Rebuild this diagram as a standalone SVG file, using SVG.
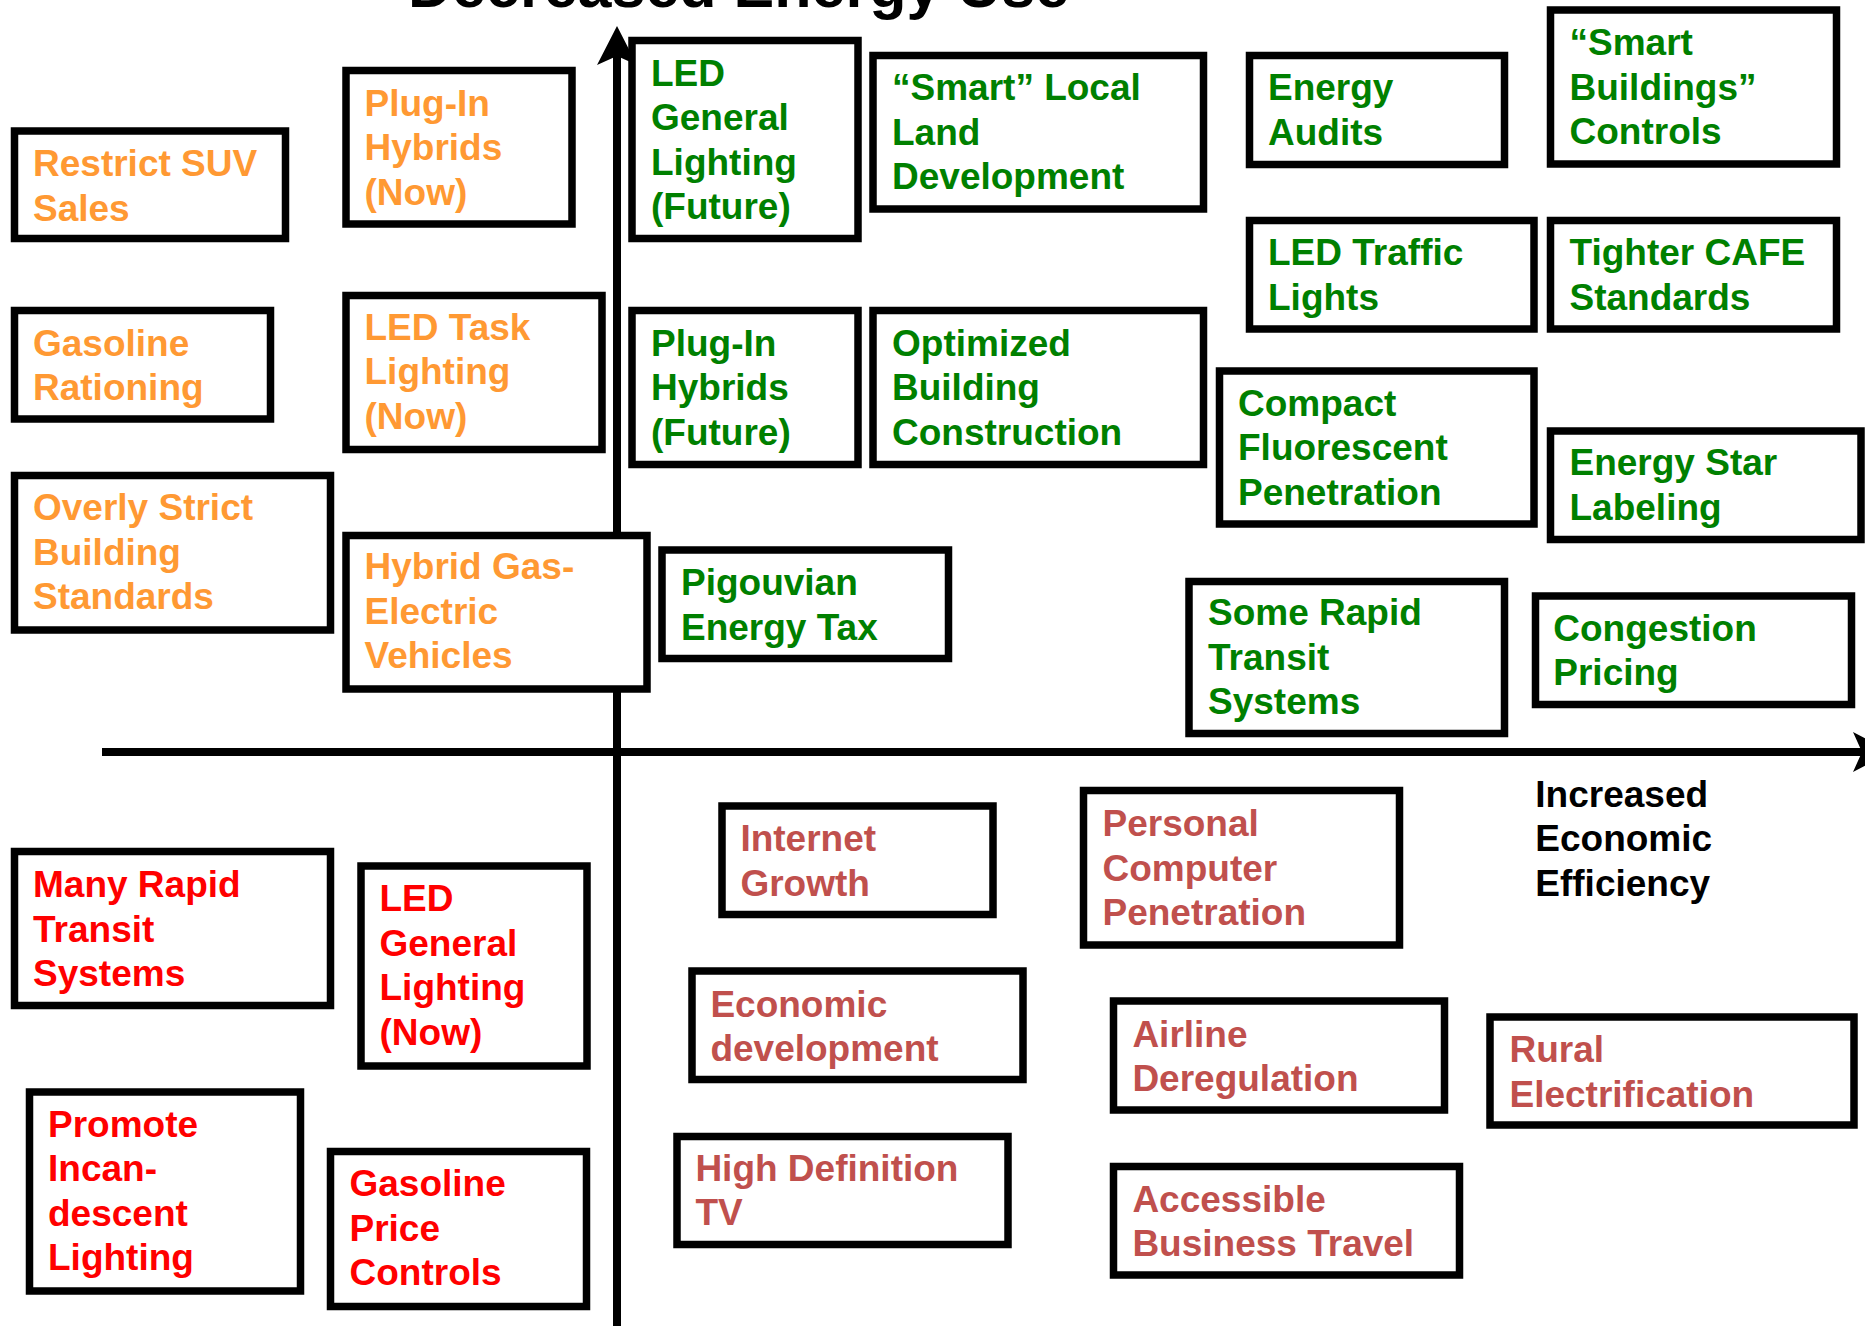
<svg xmlns="http://www.w3.org/2000/svg" width="1865" height="1326" viewBox="0 0 1865 1326">
<style>
.box{fill:#fff;stroke:#000;stroke-width:7.5}
.t{font-family:"Liberation Sans",Arial,sans-serif;font-weight:bold;font-size:37px}
.o{fill:#FF9933}.g{fill:#008000}.r{fill:#FF0000}.d{fill:#C0504D}.k{fill:#000}
.ax{stroke:#000;stroke-width:8;fill:none}
</style>
<defs>
<marker id="arr" viewBox="0 0 40 40" markerWidth="40" markerHeight="40" refX="9" refY="20" orient="auto" markerUnits="userSpaceOnUse">
<path d="M39,20 L0,0 L9,20 L0,40 Z" fill="#000"/>
</marker>
</defs>
<rect width="1865" height="1326" fill="#fff"/>
<text class="k" x="408" y="7" font-family="Liberation Sans, Arial, sans-serif" font-weight="bold" font-size="61">Decreased Energy Use</text>
<g id="connectors">
<line class="ax" x1="617" y1="1326" x2="617" y2="56" marker-end="url(#arr)"/>
<line class="ax" x1="102" y1="752" x2="1862" y2="752" marker-end="url(#arr)"/>
</g>
<g id="n1"><rect class="box" x="14.5" y="131" width="271" height="107.5"/><text class="t o"><tspan x="33" y="176">Restrict SUV</tspan><tspan x="33" y="220.5">Sales</tspan></text></g>
<g id="n2"><rect class="box" x="346" y="70.5" width="226" height="153.5"/><text class="t o"><tspan x="364.5" y="115.7">Plug-In</tspan><tspan x="364.5" y="160.2">Hybrids</tspan><tspan x="364.5" y="204.7">(Now)</tspan></text></g>
<g id="n3"><rect class="box" x="14.5" y="310.5" width="256" height="108.5"/><text class="t o"><tspan x="33" y="355.8">Gasoline</tspan><tspan x="33" y="400.3">Rationing</tspan></text></g>
<g id="n4"><rect class="box" x="346" y="295.5" width="256" height="154"/><text class="t o"><tspan x="364.5" y="339.8">LED Task</tspan><tspan x="364.5" y="384.3">Lighting</tspan><tspan x="364.5" y="428.8">(Now)</tspan></text></g>
<g id="n5"><rect class="box" x="14.5" y="475.5" width="316" height="154.5"/><text class="t o"><tspan x="33" y="520.2">Overly Strict</tspan><tspan x="33" y="564.7">Building</tspan><tspan x="33" y="609.2">Standards</tspan></text></g>
<g id="n6"><rect class="box" x="346" y="535.5" width="301" height="153.5"/><text class="t o"><tspan x="364.5" y="579.4">Hybrid Gas-</tspan><tspan x="364.5" y="623.9">Electric</tspan><tspan x="364.5" y="668.4">Vehicles</tspan></text></g>
<g id="n7"><rect class="box" x="632" y="40.5" width="226" height="198"/><text class="t g"><tspan x="651" y="85.9">LED</tspan><tspan x="651" y="130.4">General</tspan><tspan x="651" y="174.9">Lighting</tspan><tspan x="651" y="219.4">(Future)</tspan></text></g>
<g id="n8"><rect class="box" x="632" y="310.5" width="226" height="154"/><text class="t g"><tspan x="651" y="355.8">Plug-In</tspan><tspan x="651" y="400.3">Hybrids</tspan><tspan x="651" y="444.8">(Future)</tspan></text></g>
<g id="n9"><rect class="box" x="662" y="550" width="286.5" height="108.5"/><text class="t g"><tspan x="681" y="595">Pigouvian</tspan><tspan x="681" y="639.5">Energy Tax</tspan></text></g>
<g id="n10"><rect class="box" x="873" y="55.5" width="330.5" height="153.5"/><text class="t g"><tspan x="892" y="100">“Smart” Local</tspan><tspan x="892" y="144.5">Land</tspan><tspan x="892" y="189">Development</tspan></text></g>
<g id="n11"><rect class="box" x="1249.5" y="55.5" width="255" height="109"/><text class="t g"><tspan x="1268" y="100">Energy</tspan><tspan x="1268" y="144.5">Audits</tspan></text></g>
<g id="n12"><rect class="box" x="1550.5" y="10" width="286" height="154"/><text class="t g"><tspan x="1569.5" y="55.1">“Smart</tspan><tspan x="1569.5" y="99.6">Buildings”</tspan><tspan x="1569.5" y="144.1">Controls</tspan></text></g>
<g id="n13"><rect class="box" x="1249.5" y="220.5" width="284.5" height="108.5"/><text class="t g"><tspan x="1268" y="265.4">LED Traffic</tspan><tspan x="1268" y="309.9">Lights</tspan></text></g>
<g id="n14"><rect class="box" x="1550.5" y="220.5" width="286" height="108.5"/><text class="t g"><tspan x="1569.5" y="265.4">Tighter CAFE</tspan><tspan x="1569.5" y="309.9">Standards</tspan></text></g>
<g id="n15"><rect class="box" x="873" y="310.5" width="330.5" height="154"/><text class="t g"><tspan x="892" y="355.8">Optimized</tspan><tspan x="892" y="400.3">Building</tspan><tspan x="892" y="444.8">Construction</tspan></text></g>
<g id="n16"><rect class="box" x="1219.5" y="371" width="314.5" height="153"/><text class="t g"><tspan x="1238" y="415.5">Compact</tspan><tspan x="1238" y="460">Fluorescent</tspan><tspan x="1238" y="504.5">Penetration</tspan></text></g>
<g id="n17"><rect class="box" x="1550.5" y="431" width="310.5" height="108.5"/><text class="t g"><tspan x="1569.5" y="475.2">Energy Star</tspan><tspan x="1569.5" y="519.7">Labeling</tspan></text></g>
<g id="n18"><rect class="box" x="1189" y="581.5" width="315.5" height="152"/><text class="t g"><tspan x="1208" y="625.3">Some Rapid</tspan><tspan x="1208" y="669.8">Transit</tspan><tspan x="1208" y="714.3">Systems</tspan></text></g>
<g id="n19"><rect class="box" x="1535.5" y="596" width="316" height="108.5"/><text class="t g"><tspan x="1553.3" y="640.5">Congestion</tspan><tspan x="1553.3" y="685">Pricing</tspan></text></g>
<g id="n20"><rect class="box" x="14.5" y="851.5" width="316" height="154"/><text class="t r"><tspan x="33" y="897">Many Rapid</tspan><tspan x="33" y="941.5">Transit</tspan><tspan x="33" y="986">Systems</tspan></text></g>
<g id="n21"><rect class="box" x="361" y="866" width="226" height="200"/><text class="t r"><tspan x="379.5" y="911.3">LED</tspan><tspan x="379.5" y="955.8">General</tspan><tspan x="379.5" y="1000.3">Lighting</tspan><tspan x="379.5" y="1044.8">(Now)</tspan></text></g>
<g id="n22"><rect class="box" x="29.5" y="1092" width="271" height="199"/><text class="t r"><tspan x="48" y="1136.7">Promote</tspan><tspan x="48" y="1181.2">Incan-</tspan><tspan x="48" y="1225.7">descent</tspan><tspan x="48" y="1270.2">Lighting</tspan></text></g>
<g id="n23"><rect class="box" x="330.5" y="1151.5" width="256" height="155"/><text class="t r"><tspan x="349.5" y="1196.2">Gasoline</tspan><tspan x="349.5" y="1240.7">Price</tspan><tspan x="349.5" y="1285.2">Controls</tspan></text></g>
<g id="n24"><rect class="box" x="722" y="806" width="271" height="108.5"/><text class="t d"><tspan x="740.4" y="851.4">Internet</tspan><tspan x="740.4" y="895.9">Growth</tspan></text></g>
<g id="n25"><rect class="box" x="692" y="971" width="331" height="108.5"/><text class="t d"><tspan x="710.4" y="1016.9">Economic</tspan><tspan x="710.4" y="1061">development</tspan></text></g>
<g id="n26"><rect class="box" x="677" y="1136.5" width="331" height="108"/><text class="t d"><tspan x="695.4" y="1180.8">High Definition</tspan><tspan x="695.4" y="1225.3">TV</tspan></text></g>
<g id="n27"><rect class="box" x="1083.5" y="790.5" width="316" height="154.5"/><text class="t d"><tspan x="1102.5" y="836">Personal</tspan><tspan x="1102.5" y="880.5">Computer</tspan><tspan x="1102.5" y="925">Penetration</tspan></text></g>
<g id="n28"><rect class="box" x="1113.5" y="1001" width="331" height="109"/><text class="t d"><tspan x="1132.4" y="1046.6">Airline</tspan><tspan x="1132.4" y="1091.1">Deregulation</tspan></text></g>
<g id="n29"><rect class="box" x="1113.5" y="1166.5" width="346" height="108.5"/><text class="t d"><tspan x="1132.4" y="1211.7">Accessible</tspan><tspan x="1132.4" y="1256.2">Business Travel</tspan></text></g>
<g id="n30"><rect class="box" x="1490" y="1017" width="364" height="108"/><text class="t d"><tspan x="1509.5" y="1062.1">Rural</tspan><tspan x="1509.5" y="1106.6">Electrification</tspan></text></g>
<g id="axis-label"><text class="t k"><tspan x="1535.3" y="807">Increased</tspan><tspan x="1535.3" y="851.4">Economic</tspan><tspan x="1535.3" y="895.9">Efficiency</tspan></text></g>
</svg>
